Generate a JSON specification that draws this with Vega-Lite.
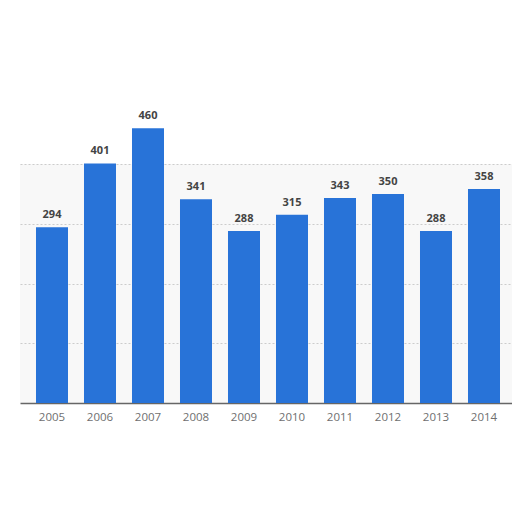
{
  "$schema": "https://vega.github.io/schema/vega-lite/v6.json",
  "autosize": {"type": "none"},
  "width": 496,
  "height": 239,
  "padding": {"left": 20, "top": 164, "right": 0, "bottom": 109},
  "background": "#ffffff",
  "config": {
    "view": {"fill": "#f8f8f8", "stroke": null},
    "font": "Open Sans"
  },
  "data": {
    "values": [
      {"year": "2005", "value": 294},
      {"year": "2006", "value": 401},
      {"year": "2007", "value": 460},
      {"year": "2008", "value": 341},
      {"year": "2009", "value": 288},
      {"year": "2010", "value": 315},
      {"year": "2011", "value": 343},
      {"year": "2012", "value": 350},
      {"year": "2013", "value": 288},
      {"year": "2014", "value": 358}
    ]
  },
  "encoding": {
    "x": {
      "field": "year",
      "type": "ordinal",
      "scale": {"paddingInner": 0.3333, "paddingOuter": 0.3333},
      "axis": {
        "title": null,
        "labelAngle": 0,
        "ticks": false,
        "labelPadding": 8,
        "labelFontSize": 11.5,
        "labelColor": "#6f6f6f",
        "domainColor": "#666666",
        "domainWidth": 1.5
      }
    },
    "y": {
      "field": "value",
      "type": "quantitative",
      "scale": {"domain": [0, 400], "nice": false},
      "axis": {
        "title": null,
        "labels": false,
        "ticks": false,
        "domain": false,
        "values": [100, 200, 300, 400],
        "gridColor": "#cccccc",
        "gridDash": [2, 2]
      }
    }
  },
  "layer": [
    {"mark": {"type": "bar", "color": "#2873d8", "clip": false}},
    {
      "mark": {
        "type": "text",
        "dy": -9,
        "baseline": "alphabetic",
        "fontSize": 11,
        "fontWeight": "bold",
        "color": "#444444",
        "clip": false
      },
      "encoding": {"text": {"field": "value", "type": "quantitative"}}
    }
  ]
}
